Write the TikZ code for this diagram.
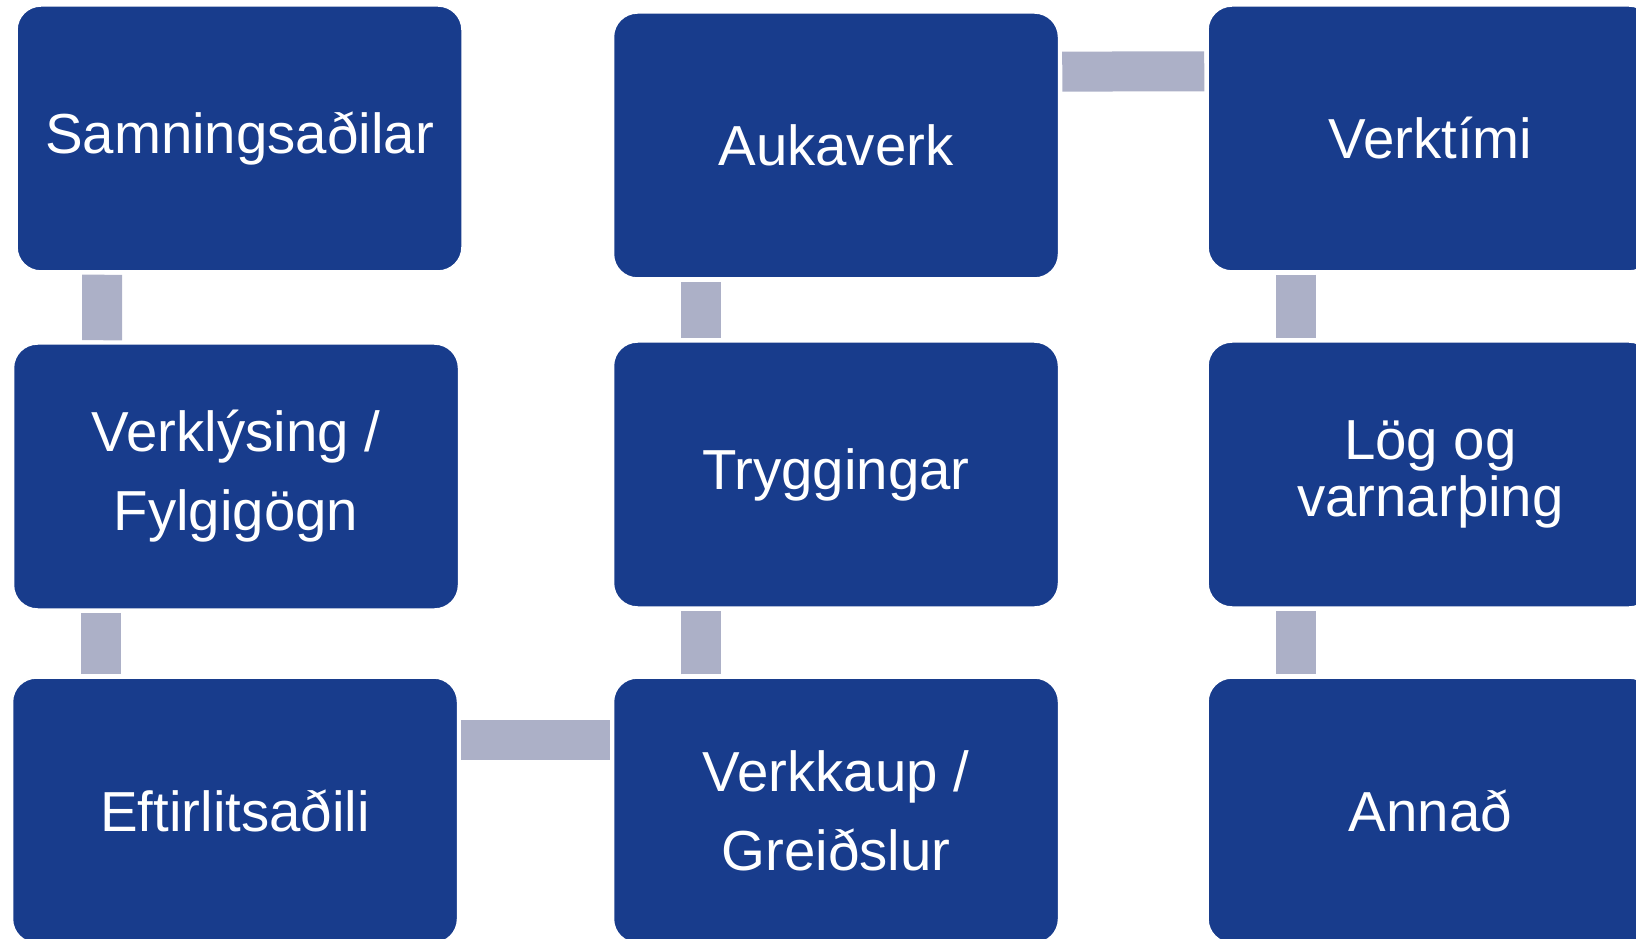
\documentclass[tikz,border=0pt]{standalone}
\usepackage{fontspec}
\setmainfont{Liberation Sans}
\usepackage{tikz}
\usetikzlibrary{positioning}

\definecolor{boxblue}{RGB}{24,60,140}
\definecolor{linkgray}{RGB}{172,176,199}

\begin{document}
\begin{tikzpicture}[x=0.5pt, y=0.5pt,
  box/.style={rectangle, draw=white, line width=0.75pt, fill=boxblue, rounded corners=12pt,
    minimum width=222.5pt, minimum height=132.5pt, inner sep=0pt,
    text=white, align=center, font=\fontsize{28.2}{39.5}\selectfont},
  link/.style={draw=linkgray, line width=20pt, shorten >=1.5pt, shorten <=1.5pt}
]
  \useasboundingbox (0,0) rectangle (1636,938);
  \clip (0,0) rectangle (1636,938);

  % -- First column --
  \node[box] (sam)   at (239.5,799.5) {Samningsaðilar};
  \node[box] (verk)  at (236,461.5)   {Verklýsing /\\Fylgigögn};
  \node[box] (eftir) at (235,127.5)   {Eftirlitsaðili};

  % -- Second column --
  \node[box] (kaup)  at (836,127.5)   {Verkkaup /\\Greiðslur};
  \node[box] (trygg) at (836,463.5)   {Tryggingar};
  \node[box] (auka)  at (836,792.5)   {Aukaverk};

  % -- Third column --
  \node[box] (timi)  at (1430.5,799.5) {Verktími};
  \node[box, font=\fontsize{28.2}{28.5}\selectfont] (log) at (1430.5,463.5) {Lög og\\varnarþing};
  \node[box] (annad) at (1430.5,127.5) {Annað};

  % -- Connectors --
  \draw[link] ([xshift=43pt]sam.south west) -- ([xshift=44.7pt]verk.north west);
  \draw[link] ([xshift=44pt]verk.south west) -- ([xshift=44.5pt]eftir.north west);
  \draw[link] ([yshift=-31.5pt]eftir.north east) -- ([yshift=-31.5pt]kaup.north west);
  \draw[link] ([xshift=44pt]kaup.north west) -- ([xshift=44pt]trygg.south west);
  \draw[link] ([xshift=44pt]trygg.north west) -- ([xshift=44pt]auka.south west);
  \draw[link] ([yshift=-29.7pt]auka.north east) -- ([yshift=-33pt]timi.north west);
  \draw[link] ([xshift=44.5pt]timi.south west) -- ([xshift=44.5pt]log.north west);
  \draw[link] ([xshift=44.5pt]log.south west) -- ([xshift=44.5pt]annad.north west);

\end{tikzpicture}
\end{document}
